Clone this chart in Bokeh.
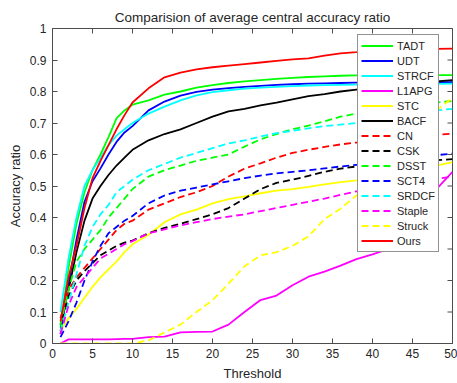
import math
from bokeh.plotting import figure
from bokeh.models import Range1d, FixedTicker
from bokeh.embed import file_html
from bokeh.resources import INLINE

thresholds = [1, 2, 3, 4, 5, 6, 7, 8, 9, 10, 12, 14, 16, 18, 20, 22, 24, 26, 28, 30,
              32, 34, 36, 38, 40, 42, 44, 46, 48, 50]

tadt = [0.05, 0.24, 0.38, 0.48, 0.55, 0.60, 0.655, 0.715, 0.74, 0.758, 0.772, 0.79, 0.80, 0.812, 0.82,
        0.827, 0.832, 0.836, 0.84, 0.843, 0.846, 0.848, 0.85, 0.851, 0.852, 0.852, 0.852, 0.852, 0.852, 0.852]
udt = [0.03, 0.19, 0.33, 0.45, 0.515, 0.556, 0.60, 0.64, 0.67, 0.69, 0.74, 0.768, 0.787, 0.799, 0.806,
       0.811, 0.815, 0.818, 0.821, 0.823, 0.825, 0.826, 0.827, 0.828, 0.829, 0.829, 0.83, 0.83, 0.83, 0.83]
strcf = [0.10, 0.27, 0.40, 0.50, 0.55, 0.59, 0.63, 0.66, 0.68, 0.70, 0.73, 0.752, 0.772, 0.788, 0.798,
         0.804, 0.809, 0.812, 0.815, 0.817, 0.819, 0.82, 0.821, 0.822, 0.822, 0.823, 0.823, 0.824, 0.824, 0.825]
l1apg = [0.0, 0.013, 0.013, 0.013, 0.013, 0.013, 0.013, 0.014, 0.015, 0.015, 0.02, 0.022, 0.035, 0.037, 0.038,
         0.06, 0.10, 0.138, 0.152, 0.185, 0.212, 0.228, 0.247, 0.268, 0.283, 0.30, 0.34, 0.41, 0.49, 0.545]
stc = [0.04, 0.08, 0.11, 0.145, 0.18, 0.21, 0.235, 0.26, 0.29, 0.315, 0.345, 0.385, 0.41, 0.425, 0.445,
       0.458, 0.467, 0.477, 0.485, 0.49, 0.497, 0.505, 0.512, 0.518, 0.525, 0.535, 0.545, 0.555, 0.565, 0.576]
bacf = [0.06, 0.17, 0.29, 0.39, 0.46, 0.50, 0.535, 0.565, 0.59, 0.615, 0.645, 0.665, 0.68, 0.70, 0.72,
        0.737, 0.745, 0.756, 0.765, 0.775, 0.785, 0.792, 0.80, 0.806, 0.812, 0.818, 0.822, 0.827, 0.832, 0.836]
cn = [0.08, 0.17, 0.21, 0.24, 0.27, 0.30, 0.33, 0.36, 0.38, 0.39, 0.425, 0.445, 0.465, 0.48, 0.50,
      0.53, 0.555, 0.572, 0.59, 0.605, 0.615, 0.624, 0.632, 0.638, 0.645, 0.65, 0.655, 0.66, 0.663, 0.666]
csk = [0.04, 0.15, 0.20, 0.23, 0.255, 0.28, 0.295, 0.31, 0.32, 0.327, 0.35, 0.367, 0.38, 0.395, 0.41,
       0.43, 0.46, 0.49, 0.51, 0.52, 0.532, 0.545, 0.555, 0.562, 0.568, 0.572, 0.575, 0.578, 0.582, 0.585]
dsst = [0.06, 0.17, 0.26, 0.30, 0.33, 0.36, 0.40, 0.43, 0.46, 0.49, 0.53, 0.55, 0.565, 0.58, 0.59,
        0.60, 0.625, 0.648, 0.665, 0.68, 0.692, 0.705, 0.72, 0.73, 0.74, 0.75, 0.755, 0.76, 0.765, 0.77]
sct4 = [0.02, 0.07, 0.13, 0.20, 0.26, 0.31, 0.35, 0.37, 0.39, 0.405, 0.445, 0.47, 0.485, 0.495, 0.505,
        0.515, 0.525, 0.533, 0.54, 0.545, 0.55, 0.556, 0.562, 0.567, 0.572, 0.578, 0.585, 0.592, 0.598, 0.603]
srdcf = [0.04, 0.13, 0.22, 0.31, 0.37, 0.41, 0.44, 0.48, 0.50, 0.52, 0.55, 0.57, 0.59, 0.605, 0.62,
         0.635, 0.645, 0.657, 0.668, 0.675, 0.683, 0.69, 0.695, 0.70, 0.705, 0.715, 0.725, 0.735, 0.74, 0.745]
staple = [0.03, 0.12, 0.18, 0.21, 0.24, 0.27, 0.285, 0.30, 0.315, 0.325, 0.35, 0.362, 0.375, 0.385, 0.395,
          0.403, 0.41, 0.42, 0.43, 0.44, 0.45, 0.46, 0.472, 0.483, 0.49, 0.50, 0.508, 0.515, 0.523, 0.53]
struck = [0.0, 0.0, 0.0, 0.0, 0.0, 0.0, 0.0, 0.0, 0.0, 0.0, 0.01, 0.035, 0.06, 0.10, 0.137,
          0.19, 0.245, 0.28, 0.29, 0.31, 0.34, 0.395, 0.428, 0.47, 0.52, 0.57, 0.63, 0.69, 0.74, 0.78]
ours = [0.07, 0.21, 0.31, 0.43, 0.525, 0.58, 0.63, 0.68, 0.725, 0.765, 0.81, 0.845, 0.86, 0.87, 0.877,
        0.882, 0.887, 0.892, 0.897, 0.902, 0.905, 0.914, 0.921, 0.925, 0.93, 0.932, 0.934, 0.935, 0.935, 0.936]

series = [
    ("TADT", tadt, "#00ff00", "solid"),
    ("UDT", udt, "#0000ff", "solid"),
    ("STRCF", strcf, "#00ffff", "solid"),
    ("L1APG", l1apg, "#ff00ff", "solid"),
    ("STC", stc, "#ffff00", "solid"),
    ("BACF", bacf, "#000000", "solid"),
    ("CN", cn, "#ff0000", "dashed"),
    ("CSK", csk, "#000000", "dashed"),
    ("DSST", dsst, "#00ff00", "dashed"),
    ("SCT4", sct4, "#0000ff", "dashed"),
    ("SRDCF", srdcf, "#00ffff", "dashed"),
    ("Staple", staple, "#ff00ff", "dashed"),
    ("Struck", struck, "#ffff00", "dashed"),
    ("Ours", ours, "#ff0000", "solid"),
]

x_ticks = [0, 5, 10, 15, 20, 25, 30, 35, 40, 45, 50]
y_ticks = [0, 0.1, 0.2, 0.3, 0.4, 0.5, 0.6, 0.7, 0.8, 0.9, 1]
y_tick_labels = ["0", "0.1", "0.2", "0.3", "0.4", "0.5", "0.6", "0.7", "0.8", "0.9", "1"]

FONT = "Liberation Sans"
TXT = "#262626"
AX = "#4d4d4d"

p = figure(width=457, height=383, output_backend="svg", toolbar_location=None,
           x_range=Range1d(0, 50), y_range=Range1d(0, 1),
           min_border_left=52, min_border_right=5, min_border_top=28, min_border_bottom=40,
           x_axis_label="Threshold", y_axis_label="Accuracy ratio",
           title="Comparision of average central accuracy ratio")
p.title.align = "center"
p.title.text_font = FONT
p.title.text_font_size = "13.5px"
p.title.text_font_style = "normal"
p.title.text_color = TXT
p.title.standoff = 8
p.xgrid.visible = False
p.ygrid.visible = False
p.outline_line_color = AX
p.outline_line_width = 1
p.background_fill_color = "white"

for name, vals, col, dash in series:
    p.line(thresholds, vals, line_color=col, line_width=1.8,
           line_dash=("7 4" if dash == "dashed" else "solid"), legend_label=name)

# inward ticks on top and right edges (outer halves are clipped by the frame)
p.scatter(x_ticks, [y_ticks[-1]] * len(x_ticks), marker="dash", angle=math.pi / 2,
          size=10, line_color=AX, line_width=1)
p.scatter([x_ticks[-1]] * len(y_ticks), y_ticks, marker="dash",
          size=10, line_color=AX, line_width=1)

def style_axis(ax):
    ax.axis_line_color = AX
    ax.axis_line_width = 1
    ax.major_tick_line_color = AX
    ax.major_tick_in = 5
    ax.major_tick_out = 0
    ax.minor_tick_line_color = None
    ax.major_label_text_font = FONT
    ax.major_label_text_color = TXT
    ax.major_label_text_font_size = "12px"
    ax.axis_label_text_font = FONT
    ax.axis_label_text_font_style = "normal"
    ax.axis_label_text_color = TXT
    ax.axis_label_text_font_size = "13px"

xa = p.xaxis[0]
xa.ticker = FixedTicker(ticks=x_ticks)
style_axis(xa)
xa.major_label_standoff = 5
xa.axis_label_standoff = 5

ya = p.yaxis[0]
ya.ticker = FixedTicker(ticks=y_ticks)
ya.major_label_overrides = {t: s for t, s in zip(y_ticks, y_tick_labels)}
style_axis(ya)
ya.major_label_standoff = 6
ya.axis_label_standoff = 4

lg = p.legend[0]
lg.location = (305, 91)
lg.label_text_font = FONT
lg.label_text_font_size = "11px"
lg.label_text_color = TXT
lg.glyph_width = 32
lg.glyph_height = 15
lg.label_height = 15
lg.spacing = 0
lg.padding = 3
lg.margin = 0
lg.label_standoff = 4
lg.border_line_color = "#262626"
lg.border_line_width = 1
lg.background_fill_color = "white"
lg.background_fill_alpha = 1

open("out.html", "w").write(file_html(p, INLINE))
